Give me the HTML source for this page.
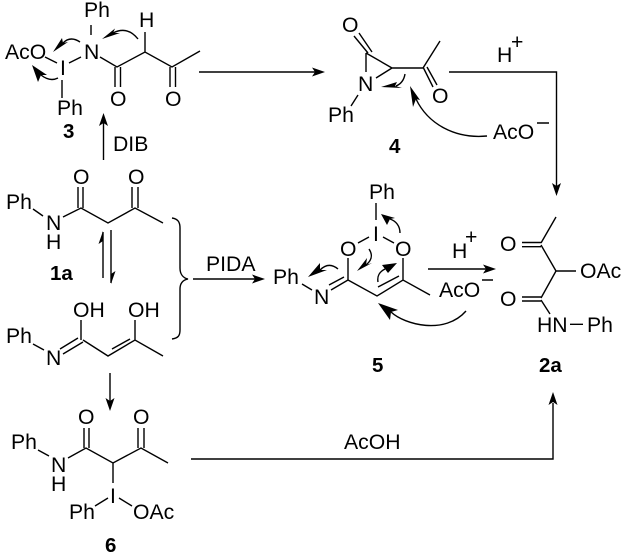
<!DOCTYPE html>
<html><head><meta charset="utf-8"><style>
html,body{margin:0;padding:0;background:#fff}
svg{display:block}
text{font-family:"Liberation Sans",sans-serif;font-size:21.2px;fill:#000}
text.b{font-weight:bold;font-size:20.5px}
.l{stroke:#000;stroke-width:1.4;fill:none}
polygon{fill:#000}
</style></head><body>
<svg xmlns="http://www.w3.org/2000/svg" width="625" height="555" viewBox="0 0 625 555">
<g class="l">
<!-- 3 -->
<path d="M91 25V35M81 57L69 63M45 57L57 63M62 80V98M100 57L117 67L145 52L172 67L200 51M115 67V87M120.500 67V87M170 67V87M175.500 67V87M145 32V52"/>
<path d="M138 39C131 30 123 28 113 33M80 42C74 38 68 38 63 43M58 78C52 81 46 79 41 75"/>
<!-- main arrows -->
<path d="M199 72H316M103.500 160V122M449 72H556.500V186M428 269H486M193 279H256M110 373V401M191 459H553V403"/>
<!-- 4 -->
<path d="M354 36L368 53M359 33L372 52M366 53V72M366 53L392 68M392 68L376 78M392 68H423L440 41M423 67L433 87M427 67L437 85M358 95L351 106"/>
<path d="M405 74C404 80 401 84 396 86M416 99C428 124 455 139 487 136"/>
<!-- 1a -->
<path d="M33 209L43 216M63 217L81 208L108 223L135 208L163 223M78 187V208M83 187V208M132 187V208M138 187V208"/>
<path d="M103 278V232M111 230V283"/>
<path d="M172 218C178 219 180 222 180 228V268C180 274 183 278 188 279C183 280 180 283 180 289V330C180 336 178 338 172 339"/>
<!-- enol -->
<path d="M81 320V340M135 320V340M33 344L44 350M60 349L78 338M63 354L83 342M83 340L108 356L135 340L163 356M112 349L130 339"/>
<!-- 5 -->
<path d="M376 203V220M369 237L358 243M383 237L394 243M348 258V280M403 258V280M348 280L377 296L403 280L430 295M378 287L399 276M348 280L331 290M329 285L344 277M302 284L312 290"/>
<path d="M338 269C332 264 326 264 320 270M369 249C373 255 372 260 366 265M378 282C377 276 379 272 385 269M400 233C400 226 396 221 390 219M391 312C405 325 445 335 466 311"/>
<!-- 2a -->
<path d="M556 217L541 243M522 242.500H541M522 246.700H541M541 245L556 271H576M556 271L541 298M522 297H541M522 301H541M541 300L550 314M570 324.300H583"/>
<!-- 6 -->
<path d="M38 450L49 456M68 458L86 448L113 463L141 448L168 463M84 428V448M89 428V448M138 428V448M144 428V448M113 463V483M95 506L108 498M119 498L132 506"/>
</g>
<!-- straight arrowheads -->
<polygon points="325,72 312,67.500 315,72 312,76.500"/>
<polygon points="103.500,113 99,126 103.500,123 108,126"/>
<polygon points="556.500,196 552,183 556.500,186 561,183"/>
<polygon points="496,269 483,264.500 486,269 483,273.500"/>
<polygon points="265,279 252,274.500 255,279 252,283.500"/>
<polygon points="110,411 105.500,398 110,401 114.500,398"/>
<polygon points="553,392 548.500,405 553,402 557.500,405"/>
<!-- half heads -->
<polygon points="103,231 98.500,244 103,241"/>
<polygon points="111,284 115.500,271 111,274"/>
<!-- curly heads -->
<polygon points="102,39 115,28.500 113,33 120,33"/>
<polygon points="53,52 62,38 63,43 68,42"/>
<polygon points="32,65 38,82 41,75 47,75"/>
<polygon points="381,87 402,88 395,86 397,82"/>
<polygon points="410,86 413,107 416,99 420,100"/>
<polygon points="308,277 320,263 320,270 327,270"/>
<polygon points="357,271 367,258 366,265 372,263"/>
<polygon points="397,263 382,265 385,269 388,273"/>
<polygon points="381,214 395,218 390,219 387,225"/>
<polygon points="378,303 390,320 391,312 398,310"/>
<!-- minus marks -->
<path class="l" d="M537 123H549M482 280H493"/>
<!-- labels -->
<text x="84" y="17">Ph</text>
<text x="139" y="27">H</text>
<text x="84" y="59">N</text>
<text x="5" y="59">AcO</text>
<text x="60" y="75">I</text>
<text x="57" y="115">Ph</text>
<text x="110" y="106">O</text>
<text x="165" y="106">O</text>
<text class="b" x="63" y="138">3</text>
<text x="113" y="151">DIB</text>
<text x="342" y="32">O</text>
<text x="358" y="91">N</text>
<text x="328" y="122">Ph</text>
<text x="432" y="103">O</text>
<text class="b" x="389" y="153">4</text>
<text x="497" y="62">H</text>
<text x="511" y="49">+</text>
<text x="493" y="139">AcO</text>
<text x="73" y="184">O</text>
<text x="128" y="184">O</text>
<text x="6" y="209">Ph</text>
<text x="46" y="230">N</text>
<text x="46" y="249">H</text>
<text class="b" x="50" y="280">1a</text>
<text x="73" y="317">OH</text>
<text x="128" y="317">OH</text>
<text x="6" y="343">Ph</text>
<text x="46" y="365">N</text>
<text x="206" y="271">PIDA</text>
<text x="369" y="199">Ph</text>
<text x="373" y="241">I</text>
<text x="340" y="256">O</text>
<text x="395" y="256">O</text>
<text x="273" y="284">Ph</text>
<text x="314" y="304">N</text>
<text class="b" x="372" y="372">5</text>
<text x="452" y="258">H</text>
<text x="465" y="244">+</text>
<text x="439" y="297">AcO</text>
<text x="500" y="251">O</text>
<text x="500" y="306">O</text>
<text x="580" y="278">OAc</text>
<text x="537" y="332">HN</text>
<text x="587" y="332">Ph</text>
<text class="b" x="539" y="372">2a</text>
<text x="78" y="424">O</text>
<text x="133" y="424">O</text>
<text x="11" y="449">Ph</text>
<text x="51" y="472">N</text>
<text x="51" y="491">H</text>
<text x="110" y="503">I</text>
<text x="69" y="519">Ph</text>
<text x="133" y="519">OAc</text>
<text class="b" x="105" y="552">6</text>
<text x="344" y="449">AcOH</text>
</svg>
</body></html>
